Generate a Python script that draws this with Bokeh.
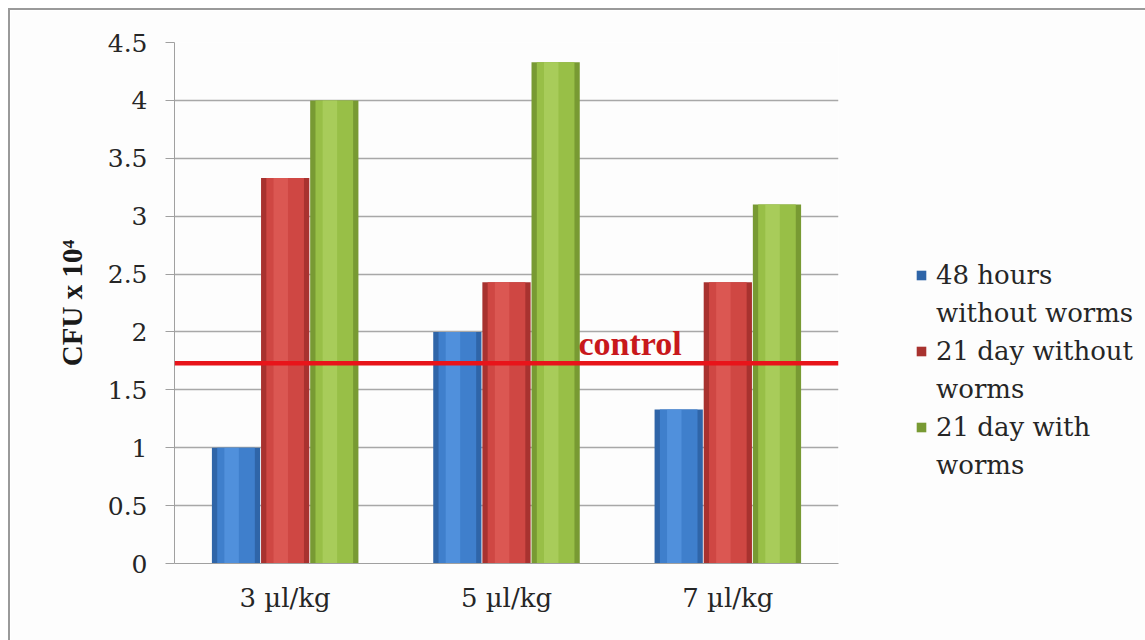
from bokeh.plotting import figure
from bokeh.models import (FactorRange, Range1d, FixedTicker, CustomJSTickFormatter,
                          Span, Label, Legend, LegendItem, ColumnDataSource)
from bokeh.transform import dodge
from bokeh.embed import file_html
from bokeh.resources import INLINE

# --- data -------------------------------------------------------------
categories = ["3 µl/kg", "5 µl/kg", "7 µl/kg"]
hours48_without = [1.0, 2.0, 1.33]
day21_without = [3.33, 2.43, 2.43]
day21_with = [4.0, 4.33, 3.1]
control_level = 1.73
y_ticks = [0, 0.5, 1, 1.5, 2, 2.5, 3, 3.5, 4, 4.5]

series_names = ["48 hours\nwithout worms", "21 day without\nworms", "21 day with\nworms"]
series_values = [hours48_without, day21_without, day21_with]

# edge / body / highlight shades for the bevelled bars
shades = [
    ("#2f65a8", "#3f7fcc", "#5c9be6"),
    ("#a8322f", "#cf4743", "#e2625d"),
    ("#789a33", "#98bf47", "#b2d668"),
]
offsets = [-0.222, 0.0, 0.222]
bar_w = 0.218

FONT_BOLD = "Liberation Serif"
FONT = "DejaVu Serif"
TXT = "#262626"

p = figure(x_range=FactorRange(*categories), y_range=Range1d(0, 4.5),
           width=1135, height=630, output_backend="svg", toolbar_location=None,
           min_border_left=164, min_border_right=307, min_border_top=32,
           min_border_bottom=77)
p.frame_width = 664
p.frame_height = 521
p.margin = (8, 0, 0, 8)
p.styles = {"border-top": "2px solid #9a9a9a", "border-left": "2px solid #9a9a9a"}
p.background_fill_color = "#fdfdfd"
p.border_fill_color = "#fdfdfd"
p.outline_line_color = None

source = ColumnDataSource(dict(cat=categories,
                               s0=hours48_without, s1=day21_without, s2=day21_with))

main_renderers = []
for i, (vals, (edge, body, hi)) in enumerate(zip(series_values, shades)):
    col = f"s{i}"
    r = p.vbar(x=dodge("cat", offsets[i], range=p.x_range), top=col, width=bar_w,
               source=source, fill_color=edge, line_color=None)
    p.vbar(x=dodge("cat", offsets[i], range=p.x_range), top=col, width=bar_w * 0.78,
           source=source, fill_color=body, line_color=None)
    p.vbar(x=dodge("cat", offsets[i] - 0.02, range=p.x_range), top=col, width=bar_w * 0.3,
           source=source, fill_color=hi, line_color=None, fill_alpha=0.6)
    main_renderers.append(r)

# control reference line and its label
p.add_layout(Span(location=control_level, dimension="width",
                  line_color="#e8141a", line_width=4.5))
p.add_layout(Label(x=1.825, y=control_level, y_offset=1, text="control",
                   text_font=FONT_BOLD, text_font_style="bold", text_font_size="34px",
                   text_color="#c8181c", text_baseline="bottom"))

# axes
p.yaxis.ticker = FixedTicker(ticks=y_ticks)
p.yaxis.formatter = CustomJSTickFormatter(code="return String(tick)")
p.yaxis.major_label_text_font = FONT
p.yaxis.major_label_text_font_size = "25px"
p.yaxis.major_label_text_color = TXT
p.yaxis.axis_line_color = "#a0a0a0"
p.yaxis.major_tick_line_color = "#a0a0a0"
p.yaxis.major_tick_in = 0
p.yaxis.major_tick_out = 9
p.yaxis.minor_tick_line_color = None
p.yaxis.major_label_standoff = 18
p.yaxis.axis_label = "CFU x 10⁴"
p.yaxis.axis_label_text_font = FONT_BOLD
p.yaxis.axis_label_text_font_style = "bold"
p.yaxis.axis_label_text_font_size = "29px"
p.yaxis.axis_label_text_color = "#1a1a1a"
p.yaxis.axis_label_standoff = 17

p.xaxis.major_label_text_font = FONT
p.xaxis.major_label_text_font_size = "26px"
p.xaxis.major_label_text_color = TXT
p.xaxis.axis_line_color = "#a0a0a0"
p.xaxis.major_tick_line_color = None
p.xaxis.major_label_standoff = 13

p.xgrid.grid_line_color = None
p.ygrid.grid_line_color = "#a8a8a8"
p.ygrid.grid_line_width = 1.6
p.ygrid.ticker = FixedTicker(ticks=y_ticks)

# legend: each entry's second line is a glyph-less item
items = []
for name, r in zip(series_names, main_renderers):
    first, second = name.split("\n")
    items.append(LegendItem(label=first, renderers=[r]))
    blank = p.vbar(x=[], top=[], width=0.1, fill_alpha=0, line_alpha=0)
    items.append(LegendItem(label=second, renderers=[blank]))

legend = Legend(items=items, location=(77, 79), orientation="vertical",
                label_text_font=FONT, label_text_font_size="26px",
                label_text_color=TXT, glyph_width=12, glyph_height=12,
                label_height=38, spacing=0, label_standoff=9, padding=0, margin=0,
                border_line_color=None, background_fill_alpha=0)
p.add_layout(legend, "right")

open("out.html", "w").write(file_html(p, INLINE))
